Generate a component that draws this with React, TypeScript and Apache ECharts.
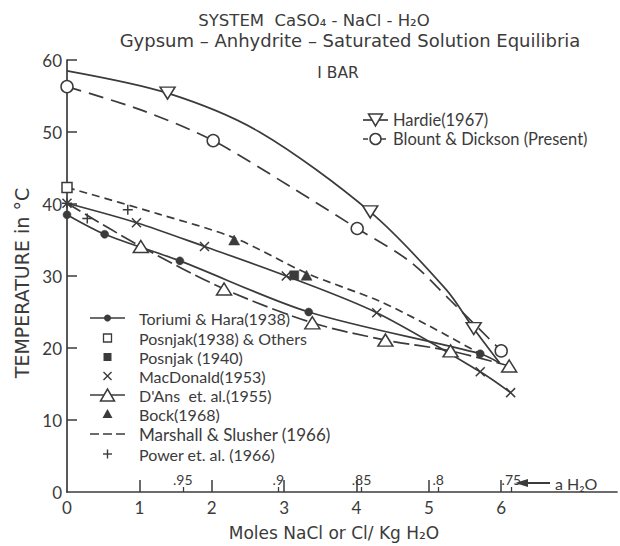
import React, { useEffect, useRef } from "react";
import * as echarts from "echarts";

// ---------- data ----------
const hardieCurve = [[0, 58.5], [1.39, 55.4], [2.66, 50.0], [4.19, 38.9], [5.24, 28.1], [5.62, 22.7], [5.98, 17.9]];
const hardiePoints = [[1.39, 55.4], [4.19, 38.9], [5.62, 22.7]];

const blountCurve = [[0, 56.3], [1.04, 53.0], [2.02, 48.8], [3.12, 42.2], [4.01, 36.6], [4.74, 32.0], [5.29, 26.7], [6.0, 19.6]];
const blountPoints = [[0, 56.3], [2.02, 48.8], [4.01, 36.6], [6.0, 19.6]];

const toriumiCurve = [[0, 38.5], [0.52, 35.8], [1.56, 32.1], [3.34, 25.0], [5.71, 19.2], [5.98, 17.9]];
const toriumiPoints = [[0, 38.5], [0.52, 35.8], [1.56, 32.1], [3.34, 25.0], [5.71, 19.2]];

const macdonaldPoints = [[0, 40.1], [0.96, 37.4], [1.9, 34.1], [3.03, 30.0], [4.28, 24.9], [5.71, 16.7], [6.13, 13.8]];

const dansCurve = [[0, 40.1], [1.02, 34.1], [2.17, 28.2], [3.39, 23.5], [4.4, 21.1], [5.3, 19.6], [6.11, 17.5]];
const dansPoints = [[1.02, 34.1], [2.17, 28.2], [3.39, 23.5], [4.4, 21.1], [5.3, 19.6], [6.11, 17.5]];

const marshallCurve = [[0, 42.3], [1.27, 38.6], [2.31, 35.3], [3.31, 30.4], [4.32, 26.5], [4.96, 23.3], [5.71, 19.2]];

const posnjak1938Points = [[0, 42.3]];
const posnjak1940Points = [[3.14, 30.1]];
const bockPoints = [[2.31, 35.0], [3.31, 30.1]];
const powerPoints = [[0, 40.1], [0.28, 38.0], [0.84, 39.2]];

const xTickValues = [1, 2, 3, 4, 5, 6];
const xLabelValues = [0, 1, 2, 3, 4, 5, 6];
const yTickValues = [10, 20, 30, 40, 50, 60];
const yLabelValues = [0, 10, 20, 30, 40, 50, 60];

const awPositions = [1.6, 2.92, 4.07, 5.13, 6.14];
const awLabels = [".95", ".9", ".85", ".8", ".75"];

const titleLines = ["SYSTEM  CaSO\u2084 - NaCl - H\u2082O", "Gypsum \u2013 Anhydrite \u2013 Saturated Solution Equilibria", "I BAR"];
const legendLower = [
  "Toriumi & Hara(1938)",
  "Posnjak(1938) & Others",
  "Posnjak (1940)",
  "MacDonald(1953)",
  "D'Ans  et. al.(1955)",
  "Bock(1968)",
  "Marshall & Slusher (1966)",
  "Power et. al. (1966)",
];
const legendUpper = ["Hardie(1967)", "Blount & Dickson (Present)"];
const xAxisName = "Moles NaCl or Cl/ Kg H\u2082O";
const yAxisName = "TEMPERATURE in \u00B0C";
const awName = "a H\u2082O";

// ---------- style ----------
const INK = "#3b3b3b";
const FONT = "Lato, 'DejaVu Sans', sans-serif";
const WIDE = "'DejaVu Sans', sans-serif";
const LW = 1.7;
const CROSS = "path://M0,0L10,10M0,10L10,0";
const PLUS = "path://M5,0L5,10M0,5L10,5";

function curve(name: string, data: number[][], dash?: number[]) {
  return {
    name,
    type: "line",
    data,
    smooth: 0.3,
    showSymbol: false,
    symbol: "none",
    z: 2,
    lineStyle: { color: INK, width: LW, type: dash ? dash : "solid" },
    silent: true,
  };
}

function marks(name: string, data: number[][], symbol: string, size: any, filled: boolean, rotate = 0) {
  return {
    name,
    type: "scatter",
    data,
    symbol,
    symbolSize: size,
    symbolRotate: rotate,
    z: 4,
    itemStyle: {
      color: filled ? INK : "#ffffff",
      borderColor: INK,
      borderWidth: filled ? 0.5 : 1.5,
      opacity: 1,
    },
    silent: true,
  };
}

function strokeMarks(name: string, data: number[][], symbol: string, size: number) {
  return {
    name,
    type: "scatter",
    data,
    symbol,
    symbolSize: size,
    z: 4,
    itemStyle: { color: "transparent", borderColor: INK, borderWidth: 1.5, opacity: 1 },
    silent: true,
  };
}

function text(x: number, y: number, t: string, size: number, align = "left", extra: any = {}, family = FONT) {
  return {
    type: "text",
    x,
    y,
    silent: true,
    ...extra,
    style: {
      text: t,
      fill: INK,
      fontSize: size,
      fontFamily: family,
      align,
      textAlign: align,
      verticalAlign: "middle",
      textVerticalAlign: "middle",
    },
  };
}

function buildGraphics() {
  const g: any[] = [];
  // titles
  g.push(text(314, 20, titleLines[0], 16.5, "center", {}, WIDE));
  g.push(text(350, 40, titleLines[1], 18, "center", {}, WIDE));
  g.push(text(338, 73, titleLines[2], 15.5, "center", {}, WIDE));
  // axis names
  g.push(text(334, 533, xAxisName, 17, "center", {}, WIDE));
  g.push(text(22, 283, yAxisName, 19, "center", { rotation: Math.PI / 2 }, WIDE));
  // a H2O arrow
  g.push({ type: "polygon", silent: true, shape: { points: [[515, 483], [528, 479], [528, 487]] }, style: { fill: INK } });
  g.push({ type: "line", silent: true, shape: { x1: 527, y1: 483, x2: 550, y2: 483 }, style: { stroke: INK, lineWidth: 2 } });
  g.push(text(555, 483, awName, 16, "left"));

  // lower legend
  const lx1 = 90, lx2 = 125, lcx = 107.5, tx = 139;
  const rows = [318, 338, 357, 376, 395, 414, 434, 454];
  const st = { stroke: INK, lineWidth: LW };
  g.push({ type: "line", silent: true, shape: { x1: lx1, y1: rows[0], x2: lx2, y2: rows[0] }, style: st });
  g.push({ type: "circle", silent: true, shape: { cx: lcx, cy: rows[0], r: 3.5 }, style: { fill: INK } });
  g.push({ type: "rect", silent: true, shape: { x: lcx - 4, y: rows[1] - 4, width: 8, height: 8 }, style: { fill: "#fff", stroke: INK, lineWidth: 1.3 } });
  g.push({ type: "rect", silent: true, shape: { x: lcx - 4, y: rows[2] - 4, width: 8, height: 8 }, style: { fill: INK } });
  g.push({ type: "line", silent: true, shape: { x1: lcx - 4, y1: rows[3] - 4, x2: lcx + 4, y2: rows[3] + 4 }, style: { stroke: INK, lineWidth: 1.4 } });
  g.push({ type: "line", silent: true, shape: { x1: lcx - 4, y1: rows[3] + 4, x2: lcx + 4, y2: rows[3] - 4 }, style: { stroke: INK, lineWidth: 1.4 } });
  g.push({ type: "line", silent: true, shape: { x1: lx1, y1: rows[4], x2: lx2, y2: rows[4] }, style: st });
  g.push({ type: "polygon", silent: true, shape: { points: [[lcx - 7, rows[4] + 6], [lcx + 7, rows[4] + 6], [lcx, rows[4] - 6]] }, style: { fill: "#fff", stroke: INK, lineWidth: 1.5 } });
  g.push({ type: "polygon", silent: true, shape: { points: [[lcx - 5, rows[5] + 4], [lcx + 5, rows[5] + 4], [lcx, rows[5] - 5]] }, style: { fill: INK } });
  g.push({ type: "line", silent: true, shape: { x1: lx1, y1: rows[6], x2: lx2, y2: rows[6] }, style: { stroke: INK, lineWidth: LW, lineDash: [9, 4] } });
  g.push({ type: "line", silent: true, shape: { x1: lcx - 4.5, y1: rows[7], x2: lcx + 4.5, y2: rows[7] }, style: { stroke: INK, lineWidth: 1.4 } });
  g.push({ type: "line", silent: true, shape: { x1: lcx, y1: rows[7] - 4.5, x2: lcx, y2: rows[7] + 4.5 }, style: { stroke: INK, lineWidth: 1.4 } });
  legendLower.forEach((t, i) => g.push(text(tx, rows[i], t, i === 6 ? 17 : 16, "left")));

  // upper legend
  const ux1 = 363, ux2 = 388, ucx = 375.5, utx = 393;
  const urows = [120, 139];
  g.push({ type: "line", silent: true, shape: { x1: ux1, y1: urows[0], x2: ux2, y2: urows[0] }, style: st });
  g.push({ type: "polygon", silent: true, shape: { points: [[ucx - 7, urows[0] - 6], [ucx + 7, urows[0] - 6], [ucx, urows[0] + 6]] }, style: { fill: "#fff", stroke: INK, lineWidth: 1.5 } });
  g.push({ type: "line", silent: true, shape: { x1: ux1, y1: urows[1], x2: ux2, y2: urows[1] }, style: { stroke: INK, lineWidth: LW, lineDash: [5, 4] } });
  g.push({ type: "circle", silent: true, shape: { cx: ucx, cy: urows[1], r: 5.5 }, style: { fill: "#fff", stroke: INK, lineWidth: 1.5 } });
  legendUpper.forEach((t, i) => g.push(text(utx, urows[i], t, 16.5, "left")));
  return g;
}

export default function App() {
  const ref = useRef<HTMLDivElement>(null);
  useEffect(() => {
    if (!ref.current) return;
    const chart = echarts.init(ref.current, undefined, { renderer: "svg" });
    const axisText = { color: INK, fontSize: 17, fontFamily: FONT };
    chart.setOption({
      animation: false,
      backgroundColor: "#ffffff",
      grid: { left: 67, top: 60, width: 550, height: 432, containLabel: false },
      xAxis: [
        {
          type: "value",
          min: 0,
          max: 7.6,
          interval: 1,
          splitLine: { show: false },
          axisLine: { show: true, lineStyle: { color: INK, width: LW } },
          axisTick: { show: true, inside: true, length: 12, customValues: xTickValues, lineStyle: { color: INK, width: 1.5 } },
          axisLabel: { show: true, customValues: xLabelValues, margin: 7, ...axisText },
        },
        {
          type: "value",
          min: 0,
          max: 7.6,
          position: "bottom",
          splitLine: { show: false },
          axisLine: { show: false },
          axisTick: { show: true, inside: true, length: 5, customValues: awPositions, lineStyle: { color: INK, width: 1.3 } },
          axisLabel: {
            show: true,
            inside: true,
            margin: 6,
            customValues: awPositions,
            color: INK,
            fontSize: 14,
            fontFamily: FONT,
            formatter: (v: number) => {
              const i = awPositions.findIndex((p) => Math.abs(p - v) < 1e-6);
              return i >= 0 ? awLabels[i] : "";
            },
          },
        },
      ],
      yAxis: {
        type: "value",
        min: 0,
        max: 60,
        interval: 10,
        splitLine: { show: false },
        axisLine: { show: true, lineStyle: { color: INK, width: LW } },
        axisTick: { show: true, inside: true, length: 10, customValues: yTickValues, lineStyle: { color: INK, width: 1.5 } },
        axisLabel: { show: true, customValues: yLabelValues, margin: 5, ...axisText },
      },
      series: [
        curve("Hardie(1967)", hardieCurve),
        marks("Hardie(1967) pts", hardiePoints, "triangle", [15, 12], false, 180),
        curve("Blount & Dickson (Present)", blountCurve, [15, 8]),
        marks("Blount pts", blountPoints, "circle", 12, false),
        curve("Toriumi & Hara(1938)", toriumiCurve),
        marks("Toriumi pts", toriumiPoints, "circle", 8, true),
        curve("MacDonald(1953)", macdonaldPoints),
        strokeMarks("MacDonald pts", macdonaldPoints, CROSS, 9),
        curve("D'Ans et. al.(1955)", dansCurve, [16, 5]),
        marks("D'Ans pts", dansPoints, "triangle", [15, 12], false),
        curve("Marshall & Slusher (1966)", marshallCurve, [8, 5]),
        marks("Posnjak(1938) & Others", posnjak1938Points, "rect", 10, false),
        marks("Posnjak (1940)", posnjak1940Points, "rect", 9, true),
        marks("Bock(1968)", bockPoints, "triangle", [11, 10], true),
        strokeMarks("Power et. al. (1966)", powerPoints, PLUS, 10),
      ],
      graphic: buildGraphics(),
    });
    return () => chart.dispose();
  }, []);
  return <div ref={ref} style={{ position: "fixed", left: 0, top: 0, width: 620, height: 546, background: "#fff" }} />;
}
